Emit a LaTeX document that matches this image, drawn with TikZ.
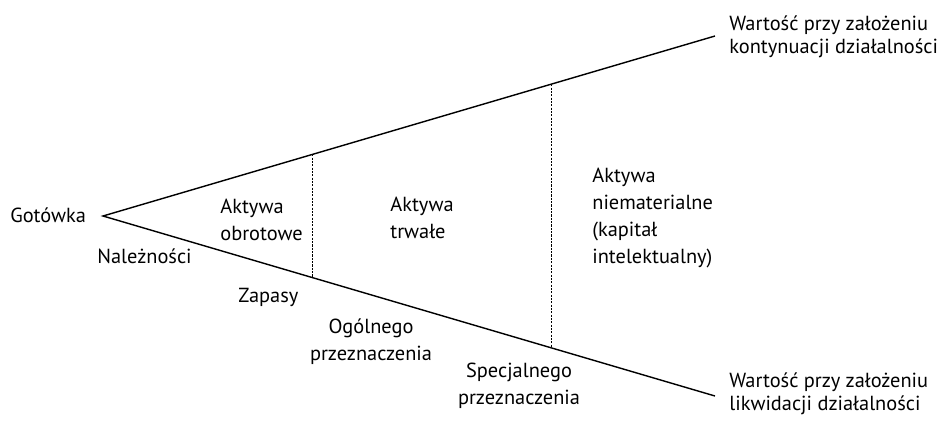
\documentclass[tikz,border=0pt]{standalone}
\usepackage{fontspec}
\setmainfont{PT Sans}
\usetikzlibrary{calc}

\begin{document}
\begin{tikzpicture}[x=0.02cm, y=-0.02cm,
    lbl/.style={inner sep=0pt, font=\fontsize{11.6}{15.3}\selectfont},
    endlbl/.style={lbl, font=\fontsize{11.6}{12.6}\selectfont},
    edge/.style={line width=0.8pt},
    divider/.style={line width=0.5pt, dash pattern=on 1.2pt off 0.7pt}]
    \useasboundingbox (0,0) rectangle (940,424);
    % Draw the two value lines
    \draw [edge] (715,36) coordinate (top_end) -- (103,216) coordinate (apex)
    -- (715,396) coordinate (bot_end);
    % Draw the dividers between the asset groups
    \draw [divider] ($(apex)!0.343!(top_end)$) coordinate (d1_top)
    -- ($(apex)!0.343!(bot_end)$) coordinate (d1_bot);
    \draw [divider] ($(apex)!0.732!(top_end)$) coordinate (d2_top)
    -- ($(apex)!0.732!(bot_end)$) coordinate (d2_bot);

    % Labels inside the wedge (base = last line)
    \node[lbl, anchor=base west, align=left] (current) at (220,240) {Aktywa\\obrotowe};
    \node[lbl, anchor=base west, align=left] (fixed) at (390,238) {Aktywa\\trwałe};
    \node[lbl, anchor=base west, align=left] (intangible) at (592,263)
    {Aktywa\\niematerialne\\(kapitał\\intelektualny)};

    % Labels below the wedge
    \node[lbl, anchor=base west] (cash) at (10,222) {Gotówka};
    \node[lbl, anchor=base west] (receivables) at (97,263) {Należności};
    \node[lbl, anchor=base west] (stock) at (238,302) {Zapasy};
    \node[lbl, anchor=base, align=center] (general) at (371,360) {Ogólnego\\przeznaczenia};
    \node[lbl, anchor=base, align=center] (special) at (519,404) {Specjalnego\\przeznaczenia};

    % Labels at the ends of the lines
    \node[endlbl, anchor=base west, align=left] (going) at (729,53)
    {Wartość przy założeniu\\kontynuacji działalności};
    \node[endlbl, anchor=base west, align=left] (liquid) at (729,410)
    {Wartość przy założeniu\\likwidacji działalności};
  \end{tikzpicture}
\end{document}
